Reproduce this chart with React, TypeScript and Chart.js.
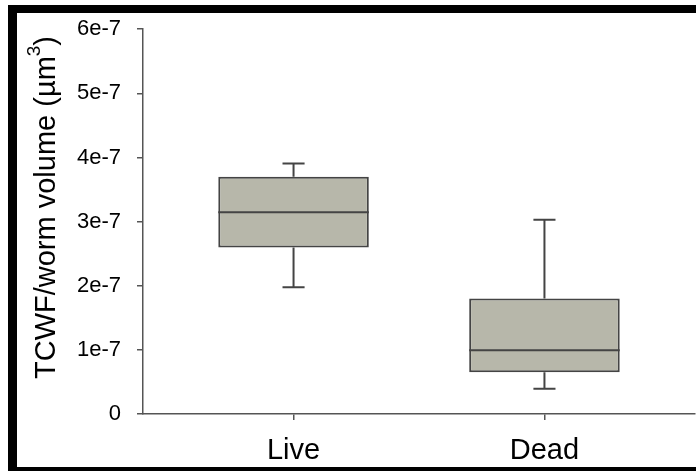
import React, { useEffect, useRef } from "react";
import { Chart, registerables } from "chart.js";

Chart.register(...registerables);

// Groups and their positions on the x scale
const groups = ["Live", "Dead"];
const groupPositions = [1, 2];

// Box-plot summary per group (TCWF / worm volume, µm³)
const whiskerLow = [1.976e-7, 0.393e-7];
const quartile1 = [2.597e-7, 0.652e-7];
const medians = [3.145e-7, 0.993e-7];
const quartile3 = [3.699e-7, 1.8e-7];
const whiskerHigh = [3.905e-7, 3.027e-7];

// Y axis ticks
const yTickValues = [0, 1e-7, 2e-7, 3e-7, 4e-7, 5e-7, 6e-7];
const yTickLabels = ["0", "1e-7", "2e-7", "3e-7", "4e-7", "5e-7", "6e-7"];

const FONT = "'Liberation Sans', Arial, Helvetica, sans-serif";
const BOX_FILL = "#b7b7aa";
const LINE_DARK = "#444444";
const AXIS_COLOR = "#555555";

// Whiskers, caps and median lines drawn on top of the floating bars
const whiskerPlugin = {
  id: "whiskers",
  afterDatasetsDraw(chart: any) {
    const { ctx, scales } = chart;
    const xs = scales.x;
    const ys = scales.y;
    const meta = chart.getDatasetMeta(0);
    ctx.save();
    ctx.strokeStyle = LINE_DARK;
    ctx.lineWidth = 2;
    groupPositions.forEach((pos, i) => {
      const x = xs.getPixelForValue(pos);
      const capHalf = Math.abs(xs.getPixelForValue(pos + 0.044) - x);
      const bar = meta.data[i];
      const boxHalf = bar ? bar.width / 2 : 75;
      const yLo = ys.getPixelForValue(whiskerLow[i]);
      const yQ1 = ys.getPixelForValue(quartile1[i]);
      const yMed = ys.getPixelForValue(medians[i]);
      const yQ3 = ys.getPixelForValue(quartile3[i]);
      const yHi = ys.getPixelForValue(whiskerHigh[i]);
      ctx.beginPath();
      // lower whisker + cap
      ctx.moveTo(x, yQ1);
      ctx.lineTo(x, yLo);
      ctx.moveTo(x - capHalf, yLo);
      ctx.lineTo(x + capHalf, yLo);
      // upper whisker + cap
      ctx.moveTo(x, yQ3);
      ctx.lineTo(x, yHi);
      ctx.moveTo(x - capHalf, yHi);
      ctx.lineTo(x + capHalf, yHi);
      // median
      ctx.moveTo(x - boxHalf, yMed);
      ctx.lineTo(x + boxHalf, yMed);
      ctx.stroke();
    });
    ctx.restore();
  },
};

// Rotated y-axis title with a superscript exponent
const yTitlePlugin = {
  id: "yTitle",
  afterDraw(chart: any) {
    const { ctx } = chart;
    const main = "TCWF/worm volume (µm";
    const sup = "3";
    const end = ")";
    const mainFont = `29px ${FONT}`;
    const supFont = `19px ${FONT}`;
    ctx.save();
    ctx.fillStyle = "#000000";
    ctx.textBaseline = "alphabetic";
    ctx.textAlign = "left";
    ctx.font = mainFont;
    const w1 = ctx.measureText(main).width;
    const w3 = ctx.measureText(end).width;
    ctx.font = supFont;
    const w2 = ctx.measureText(sup).width;
    const total = w1 + w2 + w3;
    ctx.translate(55, 207.5);
    ctx.rotate(-Math.PI / 2);
    const start = -total / 2;
    ctx.font = mainFont;
    ctx.fillText(main, start, 0);
    ctx.font = supFont;
    ctx.fillText(sup, start + w1, -15);
    ctx.font = mainFont;
    ctx.fillText(end, start + w1 + w2, 0);
    ctx.restore();
  },
};

export default function App() {
  const canvasRef = useRef<HTMLCanvasElement | null>(null);

  useEffect(() => {
    const canvas = canvasRef.current;
    if (!canvas) return;
    Chart.defaults.font.family = FONT;

    const chart = new Chart(canvas, {
      type: "bar",
      data: {
        datasets: [
          {
            data: groupPositions.map((x, i) => ({ x, y: [quartile1[i], quartile3[i]] })) as any,
            backgroundColor: BOX_FILL,
            borderColor: LINE_DARK,
            borderWidth: 2,
            borderSkipped: false,
            barPercentage: 0.6,
            categoryPercentage: 1,
          },
        ],
      },
      options: {
        responsive: false,
        animation: false,
        devicePixelRatio: 1,
        layout: { padding: { top: 28, right: 1, left: 0, bottom: 0 } },
        plugins: {
          legend: { display: false },
          tooltip: { enabled: false },
          title: { display: false },
        },
        scales: {
          x: {
            type: "linear",
            min: 0.4,
            max: 2.6,
            offset: false,
            afterBuildTicks: (scale: any) => {
              scale.ticks = groupPositions.map((v) => ({ value: v }));
            },
            afterFit: (scale: any) => {
              scale.height = 57;
            },
            ticks: {
              callback: (_v: any, i: number) => groups[i],
              font: { size: 29 },
              color: "#000000",
              padding: 14,
              maxRotation: 0,
              autoSkip: false,
            },
            grid: {
              offset: false,
              drawOnChartArea: false,
              drawTicks: true,
              tickLength: 6,
              color: AXIS_COLOR,
              lineWidth: 1.5,
            },
            border: { display: true, color: AXIS_COLOR, width: 1.5 },
          },
          y: {
            type: "linear",
            min: 0,
            max: 6e-7,
            afterBuildTicks: (scale: any) => {
              scale.ticks = yTickValues.map((v) => ({ value: v }));
            },
            afterFit: (scale: any) => {
              scale.width = 143;
            },
            ticks: {
              callback: (_v: any, i: number) => yTickLabels[i],
              font: { size: 22 },
              color: "#000000",
              padding: 16,
              autoSkip: false,
            },
            grid: {
              drawOnChartArea: false,
              drawTicks: true,
              tickLength: 6,
              color: AXIS_COLOR,
              lineWidth: 1.5,
            },
            border: { display: true, color: AXIS_COLOR, width: 1.5 },
          },
        },
      },
      plugins: [whiskerPlugin, yTitlePlugin],
    });

    return () => {
      chart.destroy();
    };
  }, []);

  return (
    <div
      style={{
        position: "fixed",
        left: 0,
        top: 0,
        width: 696,
        height: 471,
        overflow: "hidden",
        background: "#ffffff",
      }}
    >
      <canvas
        ref={canvasRef}
        width={696}
        height={471}
        style={{ position: "absolute", left: 0, top: 0, width: 696, height: 471 }}
      />
      {/* black frame around the figure (open on the right side) */}
      <div
        style={{
          position: "absolute",
          left: 8,
          top: 5,
          width: 720,
          height: 471,
          boxSizing: "border-box",
          borderLeft: "9px solid #000",
          borderTop: "8px solid #000",
          borderBottom: "9px solid #000",
          pointerEvents: "none",
        }}
      />
    </div>
  );
}
